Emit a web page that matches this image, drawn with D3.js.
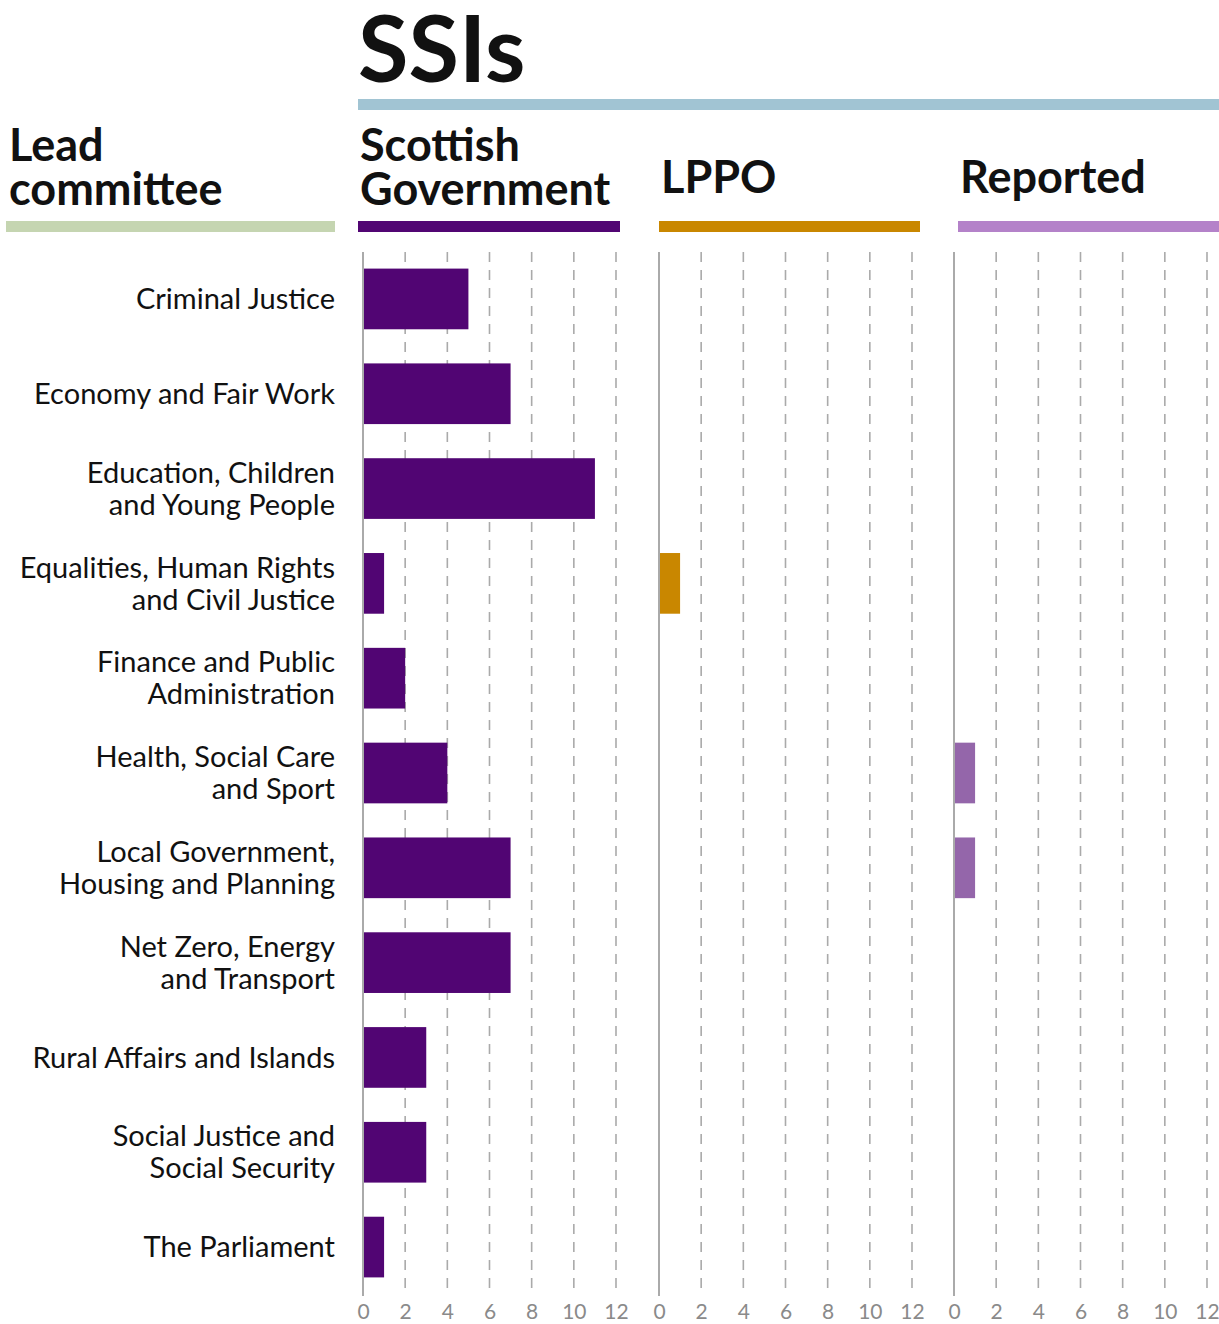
<!DOCTYPE html>
<html lang="en">
<head>
    <meta charset="UTF-8">
    <title>SSIs</title>
    <script src="https://d3js.org/d3.v7.min.js"></script>
    <style>
        body { margin: 0; background: #fff; }
        svg text { font-family: Lato, "Open Sans", sans-serif; }
        .label { font-size: 29px; fill: #111; }
        .head { font-size: 45px; font-weight: 700; fill: #111; }
        .title { font-size: 92px; font-weight: 700; fill: #111; }
        .tick text { font-size: 21px; fill: #8a8a8a; }
    </style>
</head>
<body>
    <svg id="chart"></svg>
    <script>
        // Data
        const committees = [
            ["Criminal Justice"],
            ["Economy and Fair Work"],
            ["Education, Children", "and Young People"],
            ["Equalities, Human Rights", "and Civil Justice"],
            ["Finance and Public", "Administration"],
            ["Health, Social Care", "and Sport"],
            ["Local Government,", "Housing and Planning"],
            ["Net Zero, Energy", "and Transport"],
            ["Rural Affairs and Islands"],
            ["Social Justice and", "Social Security"],
            ["The Parliament"]
        ];
        const scottishGov = [5, 7, 11, 1, 2, 4, 7, 7, 3, 3, 1];
        const lppo = [0, 0, 0, 1, 0, 0, 0, 0, 0, 0, 0];
        const reported = [0, 0, 0, 0, 0, 1, 1, 0, 0, 0, 0];
        const tickValues = [0, 2, 4, 6, 8, 10, 12];

        const panels = [
            { name: ["Scottish", "Government"], values: scottishGov, x0: 363, head: 358, headEnd: 620, color: "#510573", bar: "#510573" },
            { name: ["LPPO"], values: lppo, x0: 659, head: 659, headEnd: 920, color: "#c98700", bar: "#c98700" },
            { name: ["Reported"], values: reported, x0: 954, head: 958, headEnd: 1219, color: "#b482c9", bar: "#9466aa" }
        ];

        const width = 1219, height = 1324;
        const svg = d3.select("#chart").attr("width", width).attr("height", height);

        const keys = committees.map(d => d.join(" "));
        const y = d3.scaleBand()
            .domain(keys)
            .range([252, 1294])
            .paddingInner(0.36)
            .paddingOuter(0.175);

        // Title
        svg.append("text").attr("class", "title")
            .attr("x", 358).attr("y", 82).text("SSIs");
        svg.append("rect")
            .attr("x", 358).attr("y", 99).attr("width", width - 358).attr("height", 11)
            .attr("fill", "#a1c4d3");

        // Lead committee header
        const lead = svg.append("text").attr("class", "head").attr("x", 9);
        lead.append("tspan").attr("x", 9).attr("y", 161).text("Lead");
        lead.append("tspan").attr("x", 9).attr("y", 205).text("committee");
        svg.append("rect")
            .attr("x", 6).attr("y", 221).attr("width", 329).attr("height", 11)
            .attr("fill", "#c5d5b1");

        // Category labels
        const labels = svg.append("g");
        committees.forEach((lines, i) => {
            const cy = y(keys[i]) + y.bandwidth() / 2;
            const t = labels.append("text").attr("class", "label")
                .attr("text-anchor", "end");
            lines.forEach((l, j) => {
                t.append("tspan")
                    .attr("x", 335)
                    .attr("y", cy + (j - (lines.length - 1) / 2) * 32)
                    .attr("dy", "0.35em")
                    .text(l);
            });
        });

        panels.forEach(p => {
            const x = d3.scaleLinear().domain([0, 12]).range([p.x0, p.x0 + 253]);
            const g = svg.append("g");

            // header
            const h = g.append("text").attr("class", "head").attr("x", p.head + 2);
            if (p.name.length === 2) {
                h.append("tspan").attr("x", p.head + 2).attr("y", 161).text(p.name[0]);
                h.append("tspan").attr("x", p.head + 2).attr("y", 205).text(p.name[1]);
            } else {
                h.append("tspan").attr("x", p.head + 2).attr("y", 193).text(p.name[0]);
            }
            g.append("rect")
                .attr("x", p.head).attr("y", 221)
                .attr("width", p.headEnd - p.head).attr("height", 11)
                .attr("fill", p.color);

            // dashed gridlines
            g.selectAll(".grid")
                .data(tickValues.slice(1))
                .enter().append("line")
                .attr("x1", d => x(d)).attr("x2", d => x(d))
                .attr("y1", 252).attr("y2", 1293)
                .attr("stroke", "#aaaaaa").attr("stroke-width", 1.6)
                .attr("stroke-dasharray", "10,8");

            // bars
            g.selectAll(".bar")
                .data(p.values.map((v, i) => ({ key: keys[i], v })).filter(d => d.v > 0))
                .enter().append("rect")
                .attr("x", x(0))
                .attr("y", d => y(d.key))
                .attr("width", d => x(d.v) - x(0))
                .attr("height", y.bandwidth())
                .attr("fill", p.bar);

            // baseline
            g.append("line")
                .attr("x1", x(0)).attr("x2", x(0))
                .attr("y1", 252).attr("y2", 1296)
                .attr("stroke", "#aaaaaa").attr("stroke-width", 2);

            // axis (labels sit on a baseline near the bottom edge)
            const axis = g.append("g")
                .attr("transform", "translate(0,1319)")
                .call(d3.axisBottom(x).tickValues(tickValues).tickSize(0).tickPadding(0));
            axis.select(".domain").remove();
            axis.selectAll("text").attr("y", 0).attr("dy", 0);
        });
    </script>
</body>
</html>
